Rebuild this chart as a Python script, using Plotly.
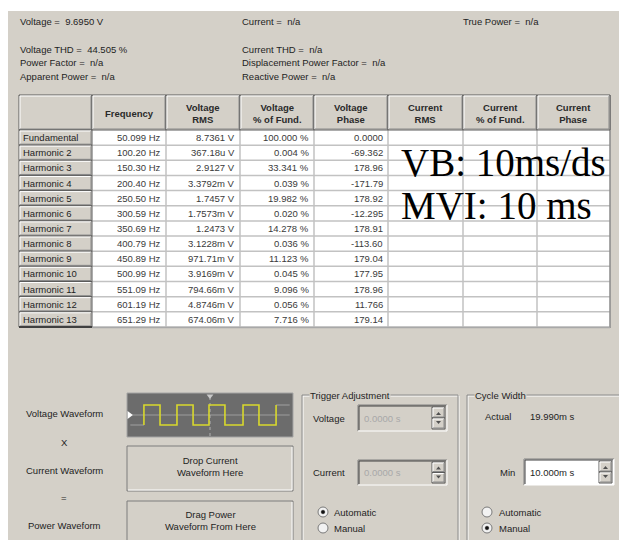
import plotly.graph_objects as go

# ---------------- data ----------------
top_line = ["Voltage =\u00a0 9.6950 V", "Current =\u00a0 n/a", "True Power =\u00a0 n/a"]
info_left = ["Voltage THD =\u00a0 44.505 %", "Power Factor =\u00a0 n/a", "Apparent Power =\u00a0 n/a"]
info_mid = ["Current THD =\u00a0 n/a", "Displacement Power Factor =\u00a0 n/a", "Reactive Power =\u00a0 n/a"]

headers = ["", "Frequency", "Voltage<br>RMS", "Voltage<br>% of Fund.", "Voltage<br>Phase",
           "Current<br>RMS", "Current<br>% of Fund.", "Current<br>Phase"]
row_labels = ["Fundamental", "Harmonic 2", "Harmonic 3", "Harmonic 4", "Harmonic 5", "Harmonic 6",
              "Harmonic 7", "Harmonic 8", "Harmonic 9", "Harmonic 10", "Harmonic 11", "Harmonic 12",
              "Harmonic 13"]
frequency = ["50.099 Hz", "100.20 Hz", "150.30 Hz", "200.40 Hz", "250.50 Hz", "300.59 Hz", "350.69 Hz",
             "400.79 Hz", "450.89 Hz", "500.99 Hz", "551.09 Hz", "601.19 Hz", "651.29 Hz"]
voltage_rms = ["8.7361 V", "367.18u V", "2.9127 V", "3.3792m V", "1.7457 V", "1.7573m V", "1.2473 V",
               "3.1228m V", "971.71m V", "3.9169m V", "794.66m V", "4.8746m V", "674.06m V"]
voltage_pct = ["100.000 %", "0.004 %", "33.341 %", "0.039 %", "19.982 %", "0.020 %", "14.278 %",
               "0.036 %", "11.123 %", "0.045 %", "9.096 %", "0.056 %", "7.716 %"]
voltage_phase = ["0.0000", "-69.362", "178.96", "-171.79", "178.92", "-12.295", "178.91", "-113.60",
                 "179.04", "177.95", "178.96", "11.766", "179.14"]
current_rms = [""] * 13
current_pct = [""] * 13
current_phase = [""] * 13

overlay_lines = ["VB: 10ms/ds", "MVI: 10 ms"]

# waveform (ms, 10 ms/div): edge times and level after each edge
edge_t = [-39.8, -30.1, -19.9, -10.2, -0.6, 9.0, 19.9, 29.5, 39.8]
edge_level = [1, -1, 1, -1, 1, -1, 1, -1, 1]
start_level = -1
pre_t = [-48, -39.8]
post_t = [39.8, 48]

eq_labels = ["Voltage Waveform", "X", "Current Waveform", "=", "Power Waveform"]
drop_text = "Drop Current<br>Waveform Here"
drag_text = "Drag Power<br>Waveform From Here"

trig_labels = ["Voltage", "Current"]
trig_values = ["0.0000 s", "0.0000 s"]
radio_labels = ["Automatic", "Manual"]
trig_radio_sel = 0
cycle_radio_sel = 1
cycle_actual = "19.990m s"
cycle_min = "10.000m s"

# ---------------- style / layout constants ----------------
W, H = 619, 540
BG = "#d4d0c8"
FONT = "Liberation Sans"
TXT = "#1e1e1e"
FS = 9.5

shapes = []
annotations = []


def rect(x0, y0, x1, y1, fill="rgba(0,0,0,0)", line=None, width=1):
    shapes.append(dict(type="rect", xref="x", yref="y", x0=x0, y0=y0, x1=x1, y1=y1,
                       fillcolor=fill, layer="below",
                       line=dict(color=line if line else "rgba(0,0,0,0)", width=width if line else 0)))


def seg(x0, y0, x1, y1, color, width=1, dash="solid"):
    shapes.append(dict(type="line", xref="x", yref="y", x0=x0, y0=y0, x1=x1, y1=y1, layer="below",
                       line=dict(color=color, width=width, dash=dash)))


def circ(cx, cy, r, fill, line, width=1):
    shapes.append(dict(type="circle", xref="x", yref="y", x0=cx - r, y0=cy - r, x1=cx + r, y1=cy + r,
                       fillcolor=fill, layer="below", line=dict(color=line, width=width)))


def path(p, fill, line="rgba(0,0,0,0)"):
    shapes.append(dict(type="path", xref="x", yref="y", path=p, fillcolor=fill, layer="below",
                       line=dict(color=line, width=0.5)))


def text(x, y, s, size=FS, anchor="left", color=TXT, family=FONT, bg="rgba(0,0,0,0)", weight="normal"):
    annotations.append(dict(x=x, y=y, xref="x", yref="y", text=s, showarrow=False, xanchor=anchor,
                            yanchor="middle", borderpad=0, bgcolor=bg, align="center",
                            font=dict(size=size, color=color, family=family, weight=weight)))


def button(x0, y0, x1, y1, fill=BG):
    rect(x0, y0, x1, y1, fill=fill, line="#5a5a5a", width=1)
    seg(x0 + 1, y0 + 1, x1 - 1, y0 + 1, "#ffffff", 1)
    seg(x0 + 1, y0 + 1, x0 + 1, y1 - 1, "#ffffff", 1)
    seg(x0 + 1, y1 - 1, x1 - 1, y1 - 1, "#8a8a8a", 1)
    seg(x1 - 1, y0 + 1, x1 - 1, y1 - 1, "#8a8a8a", 1)


# background panel
rect(8, 11, W + 2, H + 2, fill=BG)

# ---- top summary ----
top_x = [19, 241, 462]
for x, s in zip(top_x, top_line):
    text(x, 21, s)
info_y = [49, 62, 76]
for y, s in zip(info_y, info_left):
    text(19, y, s)
for y, s in zip(info_y, info_mid):
    text(241, y, s)

# ---- table ----
col_edges = [19, 92, 166, 240, 314, 388, 463, 537, 610]
head_top, head_bot = 95, 130
row_h = 15.15
n_rows = len(row_labels)
tab_bot = head_bot + n_rows * row_h

rect(col_edges[1], head_bot, col_edges[-1], tab_bot, fill="#ffffff")
for e in col_edges[2:-1]:
    seg(e, head_bot, e, tab_bot, "#c2c2c2", 1.5)
for i in range(1, n_rows + 1):
    y = head_bot + i * row_h
    seg(col_edges[1], y, col_edges[-1], y, "#c2c2c2", 1.5)
seg(col_edges[-1], head_top, col_edges[-1], tab_bot + 1, "#8a8a8a", 1.5)
seg(col_edges[1], tab_bot + 0.5, col_edges[-1], tab_bot + 0.5, "#a8a8a8", 1.5)

for j in range(len(headers)):
    button(col_edges[j], head_top, col_edges[j + 1], head_bot)
    if headers[j]:
        text((col_edges[j] + col_edges[j + 1]) / 2, (head_top + head_bot) / 2 + 0.5,
             headers[j], size=9.5, weight="bold", anchor="center", color="#2a2a2a")

columns = [frequency, voltage_rms, voltage_pct, voltage_phase, current_rms, current_pct, current_phase]
for i, lab in enumerate(row_labels):
    y0 = head_bot + i * row_h
    yc = y0 + row_h / 2
    button(col_edges[0], y0, col_edges[1], y0 + row_h)
    text(col_edges[0] + 3, yc, lab)
    for j, col in enumerate(columns):
        if col[i]:
            text(col_edges[j + 2] - 4, yc, col[i], anchor="right", color="#3a3a3a")
seg(col_edges[0], tab_bot, col_edges[1], tab_bot, "#404040", 2)

# overlay annotation text
for s, y in zip(overlay_lines, [162, 205.5]):
    text(400, y, s, size=39, family="Liberation Serif", color="#000000")

# ---- bottom: equation labels ----
for s, y in zip(eq_labels, [413, 442, 470, 497, 525]):
    text(64, y, s, anchor="center")

# waveform box
wx0, wx1, wy0, wy1 = 127, 293, 393, 437
rect(wx0, wy0, wx1, wy1, fill="#6c6c6c", line="#a4a4a4", width=1)
# drop / drag boxes
for (y0, y1), s in zip([(446, 491), (501, 560)], [drop_text, drag_text]):
    rect(wx0, y0, wx1, y1, fill=BG, line="#7c7c7c", width=1)
    seg(wx0 + 1, y1 - 1, wx1 - 1, y1 - 1, "#ffffff", 1)
    seg(wx1 - 1, y0 + 1, wx1 - 1, y1 - 1, "#ffffff", 1)
    text((wx0 + wx1) / 2, y0 + 20.5 if y1 < 500 else y0 + 19, s, anchor="center")


# group boxes
def group(x0, y0, x1, y1, title):
    rect(x0 + 1, y0 + 1, x1 + 1, y1 + 1, line="#ffffff", width=1)
    rect(x0, y0, x1, y1, line="#8c8c8c", width=1)
    text(x0 + 7, y0, title, bg=BG)


group(302, 395, 458, 600, "Trigger Adjustment")
group(467, 395, 640, 600, "Cycle Width")


def spin(x0, y0, x1, y1, val, fill, tcolor):
    rect(x0, y0, x1, y1, fill=fill)
    seg(x0, y0, x1, y0, "#808080", 1)
    seg(x0, y0, x0, y1, "#808080", 1)
    seg(x0 + 1, y0 + 1, x1 - 1, y0 + 1, "#404040", 1)
    seg(x0 + 1, y0 + 1, x0 + 1, y1 - 1, "#404040", 1)
    seg(x0, y1, x1, y1, "#ffffff", 1)
    seg(x1, y0, x1, y1, "#ffffff", 1)
    bx0 = x1 - 15
    ym = (y0 + y1) / 2
    button(bx0, y0 + 2, x1 - 2, ym)
    button(bx0, ym, x1 - 2, y1 - 2)
    cx = (bx0 + x1 - 2) / 2
    path(f"M {cx-2.5} {ym-3} L {cx+2.5} {ym-3} L {cx} {ym-6} Z", "#505050")
    path(f"M {cx-2.5} {ym+3} L {cx+2.5} {ym+3} L {cx} {ym+6} Z", "#505050")
    text(x0 + 5, ym, val, color=tcolor)


for lab, val, (y0, y1) in zip(trig_labels, trig_values, [(405, 431), (460, 485)]):
    text(312, (y0 + y1) / 2, lab)
    spin(358, y0, 447, y1, val, BG, "#a8a8a8")

text(484, 416, "Actual")
text(529, 416, cycle_actual)
text(499, 472, "Min")
spin(524, 459, 614, 485, cycle_min, "#ffffff", TXT)


def radios(cx, tx, sel):
    for k, (lab, y) in enumerate(zip(radio_labels, [512, 528])):
        circ(cx, y, 5, "#f2f2f2", "#7a7a7a", 1)
        if k == sel:
            circ(cx, y, 1.8, "#111111", "#111111", 0.5)
        text(tx, y, lab)


radios(323, 333, trig_radio_sel)
radios(487, 498, cycle_radio_sel)

# ---------------- figure ----------------
fig = go.Figure()

grey = "#a0a0a0"
fig.add_trace(go.Scatter(x=[pre_t[0], post_t[1]], y=[0, 0], mode="lines",
                         line=dict(color="#9c9c9c", width=1), xaxis="x2", yaxis="y2", hoverinfo="skip"))
fig.add_trace(go.Scatter(x=[0, 0], y=[-2.1, 2.0], mode="lines",
                         line=dict(color="#b0b0b0", width=1, dash="dot"), xaxis="x2", yaxis="y2",
                         hoverinfo="skip"))
fig.add_trace(go.Scatter(x=pre_t, y=[start_level, start_level], mode="lines",
                         line=dict(color=grey, width=1), xaxis="x2", yaxis="y2", hoverinfo="skip"))
fig.add_trace(go.Scatter(x=post_t, y=[edge_level[-1], edge_level[-1]], mode="lines",
                         line=dict(color=grey, width=1), xaxis="x2", yaxis="y2", hoverinfo="skip"))
fig.add_trace(go.Scatter(x=[edge_t[0]] + edge_t, y=[start_level] + edge_level, mode="lines",
                         line=dict(color="#d8d82c", width=1.6, shape="hv"), xaxis="x2", yaxis="y2",
                         hoverinfo="skip"))
fig.add_trace(go.Scatter(x=[0], y=[1.9], mode="markers",
                         marker=dict(symbol="triangle-down", size=6, color="#c8c8c8"),
                         xaxis="x2", yaxis="y2", hoverinfo="skip"))
fig.add_trace(go.Scatter(x=[-48.6], y=[0], mode="markers",
                         marker=dict(symbol="triangle-right", size=7, color="#ffffff"),
                         xaxis="x2", yaxis="y2", hoverinfo="skip"))

fig.update_layout(
    width=W, height=H, margin=dict(l=0, r=0, t=0, b=0),
    paper_bgcolor="#ffffff", plot_bgcolor="rgba(0,0,0,0)", showlegend=False,
    xaxis=dict(range=[0, W], domain=[0, 1], visible=False, fixedrange=True),
    yaxis=dict(range=[H, 0], domain=[0, 1], visible=False, fixedrange=True),
    xaxis2=dict(range=[-50, 50], domain=[wx0 / W, wx1 / W], visible=False, anchor="y2", fixedrange=True),
    yaxis2=dict(range=[-2.2, 2.2], domain=[1 - wy1 / H, 1 - wy0 / H], visible=False, anchor="x2",
                fixedrange=True),
    shapes=shapes, annotations=annotations,
)

fig.write_html("out.html", config={"displayModeBar": False},
               post_script="document.body.style.margin='0';document.body.style.overflow='hidden';")
